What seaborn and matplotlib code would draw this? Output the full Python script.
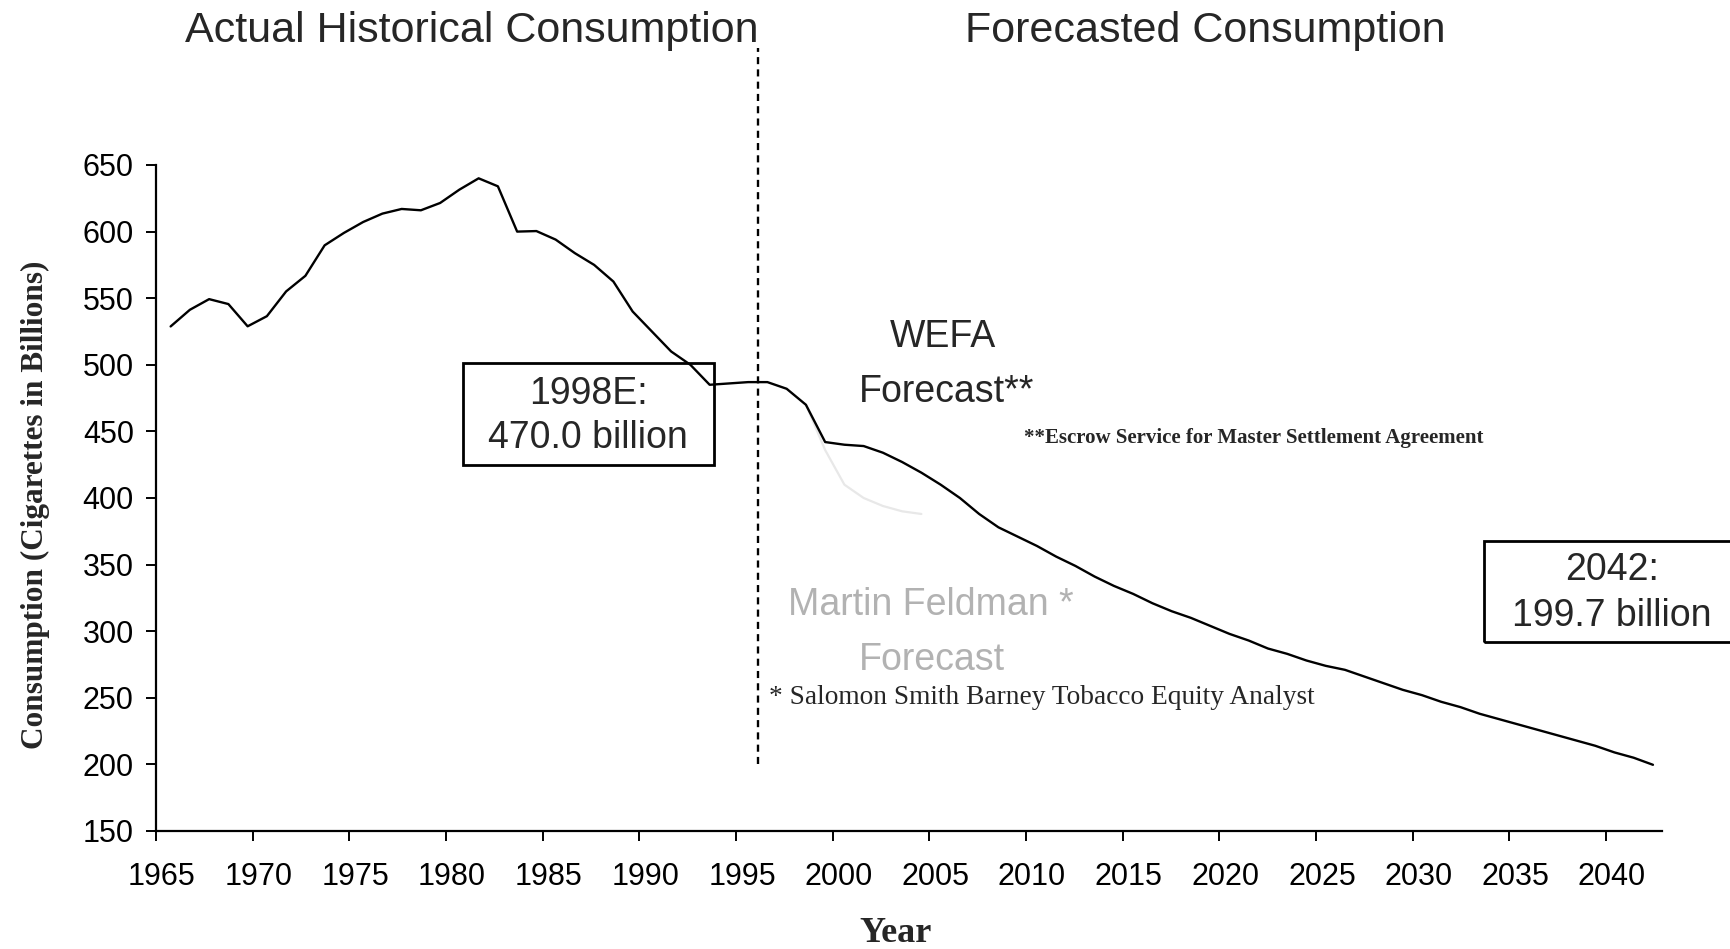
import matplotlib
matplotlib.use("Agg")
import matplotlib.pyplot as plt
import matplotlib.patches as mpatches
import matplotlib.transforms as mtransforms
import numpy as np
import pandas as pd
import seaborn as sns

# U.S. cigarette consumption, billions of cigarettes
hist_years = list(range(1965, 1999))
hist_values = [528.8, 541.3, 549.3, 545.6, 528.9, 536.5, 555.1, 566.8, 589.7, 599.0,
               607.2, 613.5, 617.0, 616.0, 621.5, 631.5, 640.0, 634.0, 600.0, 600.4,
               594.0, 583.8, 575.0, 562.5, 540.0, 525.0, 510.0, 500.0, 485.0, 486.0,
               487.0, 487.0, 482.0, 470.0]

# WEFA forecast
wefa_years = list(range(1999, 2043))
wefa_values = [442, 440, 439, 434, 427, 419, 410, 400, 388, 378,
               371, 364, 356, 349, 341, 334, 328, 321, 315, 310,
               304, 298, 293, 287, 283, 278, 274, 271, 266, 261,
               256, 252, 247, 243, 238, 234, 230, 226, 222, 218,
               214, 209, 205, 199.7]

# Martin Feldman forecast (short, faint segment)
feldman_years = [1998, 1999, 2000, 2001, 2002, 2003, 2004]
feldman_values = [470, 436, 410, 400, 394, 390, 388]

tick_years = list(range(1965, 2041, 5))
y_ticks = list(range(150, 651, 50))

series = pd.DataFrame({
    "year": hist_years + wefa_years,
    "consumption": hist_values + wefa_values,
})
feldman = pd.DataFrame({"year": feldman_years, "consumption": feldman_values})

sns.set_theme(style="ticks")
plt.rcParams["font.family"] = ["Liberation Sans", "DejaVu Sans"]
plt.rcParams["axes.linewidth"] = 1.6

W, H = 1730, 949
fig = plt.figure(figsize=(W / 100, H / 100), dpi=100)
fig.patch.set_facecolor("white")


def fx(px):
    return px / W


def fy(py):
    return 1 - py / H


rect = [fx(156), fy(831), fx(1662) - fx(156), fy(165) - fy(831)]
ax = fig.add_axes(rect)
ax.set_facecolor("white")

sns.lineplot(data=feldman, x="year", y="consumption", ax=ax,
             color="#e8e8e8", lw=1.6, legend=False)
sns.lineplot(data=series, x="year", y="consumption", ax=ax,
             color="black", lw=1.7, legend=False)

ax.set_xlim(1964.24, 2042.47)
ax.set_ylim(150, 650)
ax.set_yticks(y_ticks)
ax.set_yticklabels([str(v) for v in y_ticks])
ax.tick_params(axis="y", direction="out", length=7, width=1.4, pad=9,
               labelsize=22, colors="black", left=True)
ax.tick_params(axis="x", bottom=False, labelbottom=False)
ax.set_xlabel("")
ax.set_ylabel("")
for side in ("top", "right"):
    ax.spines[side].set_visible(False)
for side in ("left", "bottom"):
    ax.spines[side].set_color("black")

# divider between history and forecast
ax.plot([1995.5, 1995.5], [200, 738], color="black", lw=1.7,
        ls=(0, (3.0, 2.2)), clip_on=False)

# year axis labels
ax2 = fig.add_axes(rect, frameon=False)
ax2.patch.set_visible(False)
ax2.set_xlim(1965, 2042.9)
ax2.set_ylim(0, 1)
ax2.set_xticks(tick_years)
ax2.set_xticklabels([str(y) for y in tick_years])
ax2.tick_params(axis="x", direction="out", length=7, width=1.4, pad=15,
                labelsize=22, colors="black")
ax2.set_yticks([])
offset = mtransforms.ScaledTranslation(6 / 100, 0, fig.dpi_scale_trans)
for lab in ax2.get_xticklabels():
    lab.set_transform(lab.get_transform() + offset)

# headers
fig.text(fx(472), fy(31), "Actual Historical Consumption", fontsize=31,
         ha="center", va="center")
fig.text(fx(1205), fy(31), "Forecasted Consumption", fontsize=31,
         ha="center", va="center")

# axis titles
fig.text(fx(35), fy(505), "Consumption (Cigarettes in Billions)",
         family=["Liberation Serif", "DejaVu Serif"], fontweight="bold",
         fontsize=22.5, rotation=90, ha="center", va="center")
fig.text(fx(896), fy(933), "Year", family=["Liberation Serif", "DejaVu Serif"],
         fontweight="bold", fontsize=26, ha="center", va="center")

# value boxes
fig.patches.append(mpatches.Rectangle((fx(463), fy(465)), fx(714) - fx(463),
                                      fy(363) - fy(465), transform=fig.transFigure,
                                      fill=False, edgecolor="black", lw=2))
fig.text(fx(588), fy(394), "1998E:", fontsize=27, ha="center", va="center")
fig.text(fx(588), fy(438), "470.0 billion", fontsize=27, ha="center", va="center")

fig.patches.append(mpatches.Rectangle((fx(1484), fy(642)), fx(1760) - fx(1484),
                                      fy(541) - fy(642), transform=fig.transFigure,
                                      fill=False, edgecolor="black", lw=2,
                                      clip_on=False))
fig.text(fx(1612), fy(570), "2042:", fontsize=27, ha="center", va="center")
fig.text(fx(1612), fy(616), "199.7 billion", fontsize=27, ha="center", va="center")

# forecast labels
fig.text(fx(943), fy(337), "WEFA", fontsize=27, ha="center", va="center")
fig.text(fx(947), fy(392), "Forecast**", fontsize=27, ha="center", va="center")
fig.text(fx(1024), fy(438), "**Escrow Service for Master Settlement Agreement",
         family=["Liberation Serif", "DejaVu Serif"], fontweight="bold",
         fontsize=15, ha="left", va="center")

fig.text(fx(931), fy(605), "Martin Feldman *", fontsize=27, color="#b2b2b2",
         ha="center", va="center")
fig.text(fx(932), fy(660), "Forecast", fontsize=27, color="#b2b2b2",
         ha="center", va="center")
fig.text(fx(769), fy(697), "* Salomon Smith Barney Tobacco Equity Analyst",
         family=["Liberation Serif", "DejaVu Serif"], fontsize=19.7,
         ha="left", va="center")

fig.savefig("out.png", dpi=100, facecolor="white")
